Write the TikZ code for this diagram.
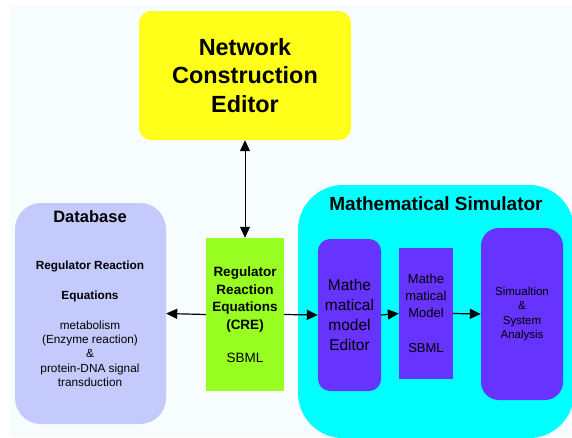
\documentclass[tikz,border=0pt]{standalone}
\usepackage{fontspec}
\setmainfont{Liberation Sans}
\usetikzlibrary{arrows.meta, positioning}
\definecolor{bgPale}{HTML}{F7FCFF}
\definecolor{nceYellow}{HTML}{FFFF1A}
\definecolor{dbLilac}{HTML}{C4CAFC}
\definecolor{creGreen}{HTML}{99FF22}
\definecolor{simCyan}{HTML}{00FFFF}
\definecolor{modViolet}{HTML}{6633FF}
\tikzset{
  arrowK/.style={-{Triangle[length=11pt, width=10pt]}, black, line width=1.2pt},
  arrowKK/.style={{Triangle[length=11pt, width=10pt]}-{Triangle[length=11pt, width=10pt]},
                  black, line width=1pt},
  boxBase/.style={rectangle, inner sep=0pt, align=center, text=black},
  boxYellow/.style={boxBase, fill=nceYellow, rounded corners=12pt},
  boxLilac/.style={boxBase, fill=dbLilac, rounded corners=26pt},
  boxGreen/.style={boxBase, fill=creGreen},
  boxCyan/.style={boxBase, fill=simCyan, rounded corners=45pt},
  boxViolet/.style={boxBase, fill=modViolet},
  titleText/.style={inner sep=0pt, align=center, font=\bfseries\fontsize{16.5}{20}\selectfont},
}

\begin{document}
\begin{tikzpicture}[x=1pt, y=-1pt]
    \useasboundingbox (0,0) rectangle (572,437);
    \fill[white] (0,0) rectangle (572,437);
    \fill[bgPale] (10,5) rectangle (572,437);

    % editor on top
    \node[boxYellow, minimum width=212pt, minimum height=129pt,
          font=\bfseries\fontsize{23.4}{28.5}\selectfont]
          (nce) at (245,75.5) {Network\\Construction\\Editor};

    % database
    \node[boxLilac, minimum width=151pt, minimum height=221pt] (db) at (90.5,313.5) {};
    \node[titleText] (dbtitle) at (90,217) {Database};
    \node[inner sep=0pt, align=center, font=\fontsize{11.8}{14.3}\selectfont]
          (dbtext) at (90,323.5)
          {\textbf{Regulator Reaction}\\[15.7pt]\textbf{Equations}\\[15.7pt]metabolism\\
           (Enzyme reaction)\\\&\\protein-DNA signal\\transduction};

    \node[boxGreen, minimum width=78pt, minimum height=153pt,
          font=\fontsize{13.5}{17.5}\selectfont]
          (cre) at (245,314.5)
          {\textbf{Regulator}\\\textbf{Reaction}\\\textbf{Equations}\\\textbf{(CRE)}\\[15.5pt]SBML};

    % simulator
    \node[boxCyan, minimum width=276pt, minimum height=253pt] (msim) at (436,311.5) {};
    \node[titleText, font=\bfseries\fontsize{19}{22}\selectfont]
          (simtitle) at (436,204) {Mathematical Simulator};

    \node[boxViolet, rounded corners=12pt, minimum width=63pt, minimum height=152pt,
          font=\fontsize{15.5}{20}\selectfont]
          (mme) at (349.5,315) {Mathe\\matical\\model\\Editor};
    \node[boxViolet, minimum width=54pt, minimum height=131pt,
          font=\fontsize{13}{17}\selectfont]
          (mm) at (426,313.5) {Mathe\\matical\\Model\\[18pt]SBML};
    \node[boxViolet, rounded corners=18pt, minimum width=82pt, minimum height=172pt,
          font=\fontsize{11.5}{14.5}\selectfont]
          (sa) at (522,314) {Simualtion\\\&\\System\\Analysis};

    \draw[arrowKK] (nce) -- (cre);
    \draw[arrowK] (cre.west) -- (db.east);
    \draw[arrowK] (cre.east) -- (mme.west);
    \draw[arrowK] (mme.east) -- (mm.west);
    \draw[arrowK] (mm.east) -- (sa.west);
\end{tikzpicture}
\end{document}
